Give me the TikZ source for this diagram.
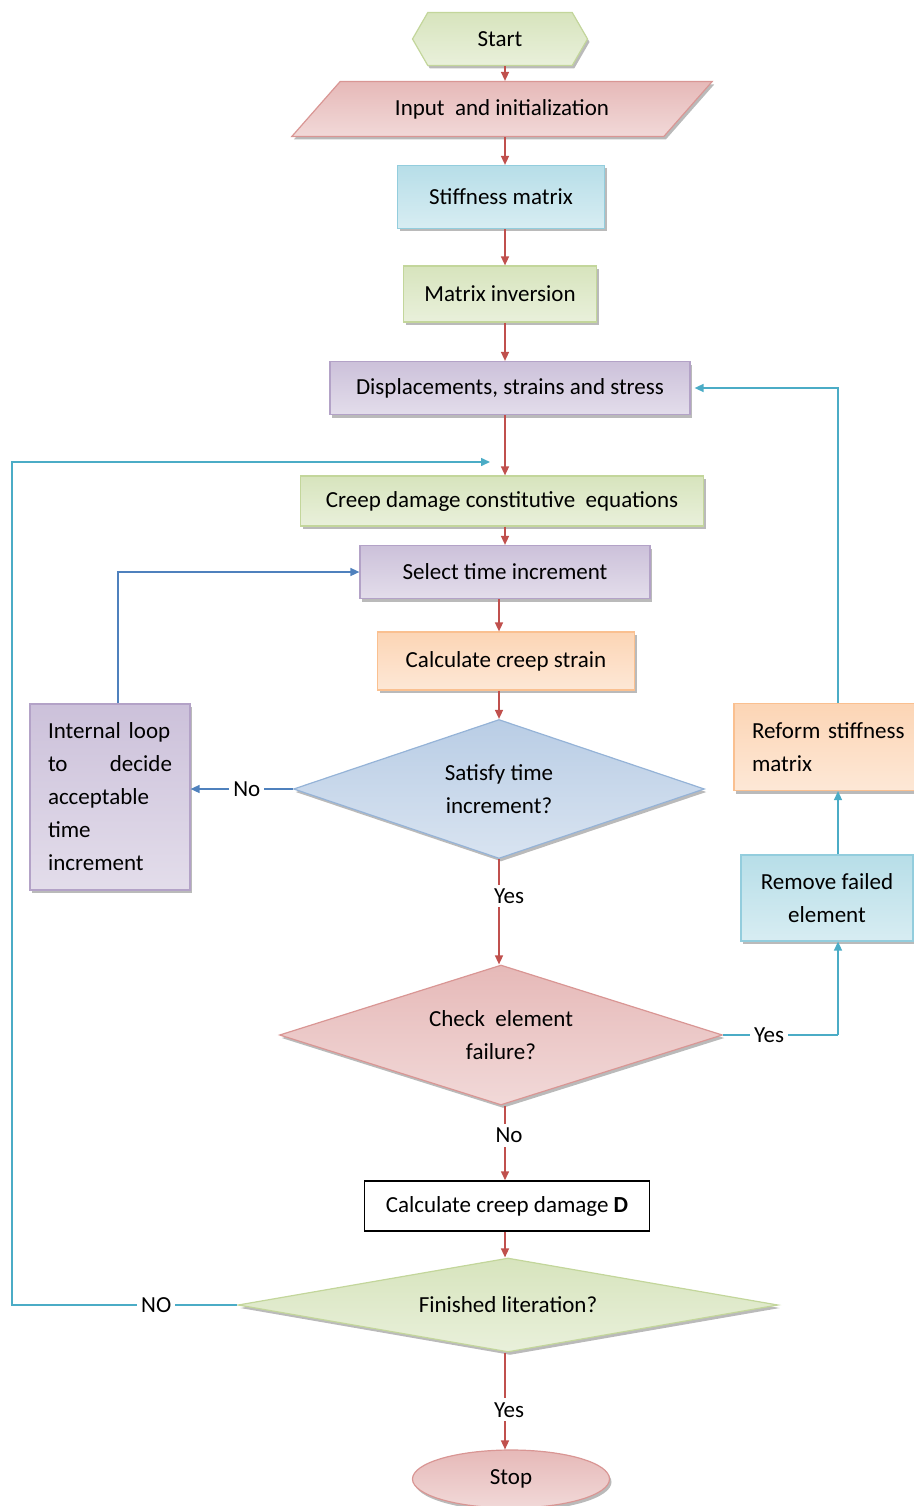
\documentclass[tikz,border=0pt]{standalone}
\usepackage{fontspec}
\setmainfont{Carlito}
\usetikzlibrary{shapes.geometric,shapes.symbols,shadows,arrows.meta}
\definecolor{cgreen}{HTML}{D7E4BD}
\definecolor{cgreenb}{HTML}{C3D69B}
\definecolor{cpink}{HTML}{E6B9B8}
\definecolor{cpinkb}{HTML}{D99694}
\definecolor{cblue}{HTML}{B7DEE8}
\definecolor{cblueb}{HTML}{93CDDD}
\definecolor{clav}{HTML}{CCC1DA}
\definecolor{clavb}{HTML}{B3A2C7}
\definecolor{corange}{HTML}{FCD5B5}
\definecolor{corangeb}{HTML}{FAC090}
\definecolor{csky}{HTML}{B9CDE5}
\definecolor{cskyb}{HTML}{95B3D7}
\definecolor{cred}{HTML}{C0504D}
\definecolor{cteal}{HTML}{4BACC6}
\definecolor{cnavy}{HTML}{4F81BD}
\begin{document}
\begin{tikzpicture}[x=1pt,y=-1pt,
  txt/.style={font=\fontsize{23}{33}\selectfont, text=black},
  shbox/.style={txt, draw=#1b, line width=1.2pt, top color=#1, bottom color=#1!55!white,
    drop shadow={shadow xshift=2pt,shadow yshift=-3pt,opacity=.45,fill=black!60},
    inner sep=2pt},
  boxg/.style={shbox=cgreen},
  boxp/.style={shbox=cpink},
  boxb/.style={shbox=cblue},
  boxl/.style={shbox=clav},
  boxo/.style={shbox=corange},
  boxs/.style={shbox=csky},
  redarrow/.style={draw=cred, line width=1.5pt, -{Triangle[length=9pt,width=8pt]}},
  tealarrow/.style={draw=cteal, line width=1.5pt, -{Triangle[length=9pt,width=8pt]}},
  tealline/.style={draw=cteal, line width=1.5pt},
  navyarrow/.style={draw=cnavy, line width=1.5pt, -{Triangle[length=9pt,width=8pt]}},
  lbl/.style={txt, fill=white, inner sep=4pt}
]
\useasboundingbox (0,0) rectangle (913,1506);
\coordinate (col) at (505,0);
\coordinate (rx) at (838,0);
\coordinate (lx) at (12,0);

% main column
\node[boxg, signal, signal to=west and east, signal pointer angle=120,
      minimum width=175pt, minimum height=53pt] (start) at (500,39) {Start};
\node[boxp, trapezium, trapezium left angle=36, trapezium right angle=144,
      trapezium stretches=true, minimum width=421pt, minimum height=55pt] (input) at (502,109) {Input\ \ and initialization};
\node[boxb, rectangle, minimum width=207pt, minimum height=63pt] (stiff) at (501,197) {Stiffness matrix};
\node[boxg, rectangle, minimum width=193pt, minimum height=56pt] (matinv) at (500,294) {Matrix inversion};
\node[boxl, rectangle, minimum width=360pt, minimum height=53pt] (disp) at (510,388) {Displacements, strains and stress};
\node[boxg, rectangle, minimum width=403pt, minimum height=50pt] (creep) at (502,501) {Creep damage constitutive\ \ equations};
\node[boxl, rectangle, minimum width=290pt, minimum height=53pt] (select) at (505,572) {Select time increment};
\node[boxo, rectangle, minimum width=257pt, minimum height=58pt] (calcs) at (506,661) {Calculate creep strain};
\node[boxs, diamond, aspect=2.96, minimum width=411pt, minimum height=139pt, inner sep=0pt, align=center] (satisfy) at (499,789) {Satisfy time\\increment?};
\node[boxl, rectangle, minimum width=160pt, minimum height=186pt, text width=124pt, align=left] (internal) at (110,797)
  {Internal loop\\to\hfill decide\\acceptable\\time\\increment};
\node[boxp, diamond, aspect=3.16, minimum width=443pt, minimum height=140pt, inner sep=0pt, align=center] (check) at (501,1035) {Check\ \ element\\failure?};
\node[boxb, rectangle, minimum width=172pt, minimum height=86pt, align=center] (remove) at (827,898) {Remove failed\\element};
\node[boxo, rectangle, minimum width=190pt, minimum height=87pt, text width=154pt, align=left] (reform) at (829,747) {Reform stiffness\\matrix};
\node[txt, draw=black, line width=1.5pt, fill=white, rectangle, minimum width=285pt, minimum height=50pt] (calcd) at (507,1206) {Calculate creep damage \textbf{D}};
\node[boxg, diamond, aspect=5.74, minimum width=540pt, minimum height=94pt, inner sep=0pt] (finished) at (508,1305) {Finished literation?};
\node[boxp, ellipse, minimum width=197pt, minimum height=58pt, inner sep=0pt] (stop) at (511,1479) {Stop};

\coordinate (loopin) at (490,462);

% main arrows
\draw[redarrow] (start.south -| col) -- (input.north -| col);
\draw[redarrow] (input.south -| col) -- (stiff.north -| col);
\draw[redarrow] (stiff.south -| col) -- (matinv.north -| col);
\draw[redarrow] (matinv.south -| col) -- (disp.north -| col);
\draw[redarrow] (disp.south -| col) -- (creep.north -| col);
\draw[redarrow] (creep.south -| col) -- (select.north -| col);
\draw[redarrow] (select.south -| satisfy) -- (calcs.north -| satisfy);
\draw[redarrow] (calcs.south -| satisfy) -- (satisfy.north);
\draw[redarrow] (satisfy.south) -- node[lbl, pos=0.35, xshift=10pt]{Yes} (check.north -| satisfy);
\draw[redarrow] (check.south -| col) -- node[lbl, pos=0.4, xshift=4pt]{No} (calcd.north -| col);
\draw[redarrow] (calcd.south -| col) -- (finished.north -| col);
\draw[redarrow] (finished.south -| col) -- node[lbl, pos=0.59, xshift=4pt]{Yes} (stop.north -| col);

% side loops
\draw[navyarrow] (satisfy.west) -- node[lbl, pos=0.45]{No} (satisfy.west -| internal.east);
\draw[navyarrow] ([xshift=8pt]internal.north) |- (select.west);
\draw[tealline] (check.east) -- node[lbl, pos=0.4]{Yes} (check.east -| rx);
\draw[tealarrow] (check.east -| rx) -- (remove.south -| rx);
\draw[tealarrow] (remove.north -| rx) -- (reform.south -| rx);
\draw[tealarrow] (reform.north -| rx) |- ([xshift=4pt]disp.east);
\draw[tealarrow] (finished.west) -- node[lbl, pos=0.36]{NO} (finished.west -| lx) |- (loopin);
\end{tikzpicture}
\end{document}
